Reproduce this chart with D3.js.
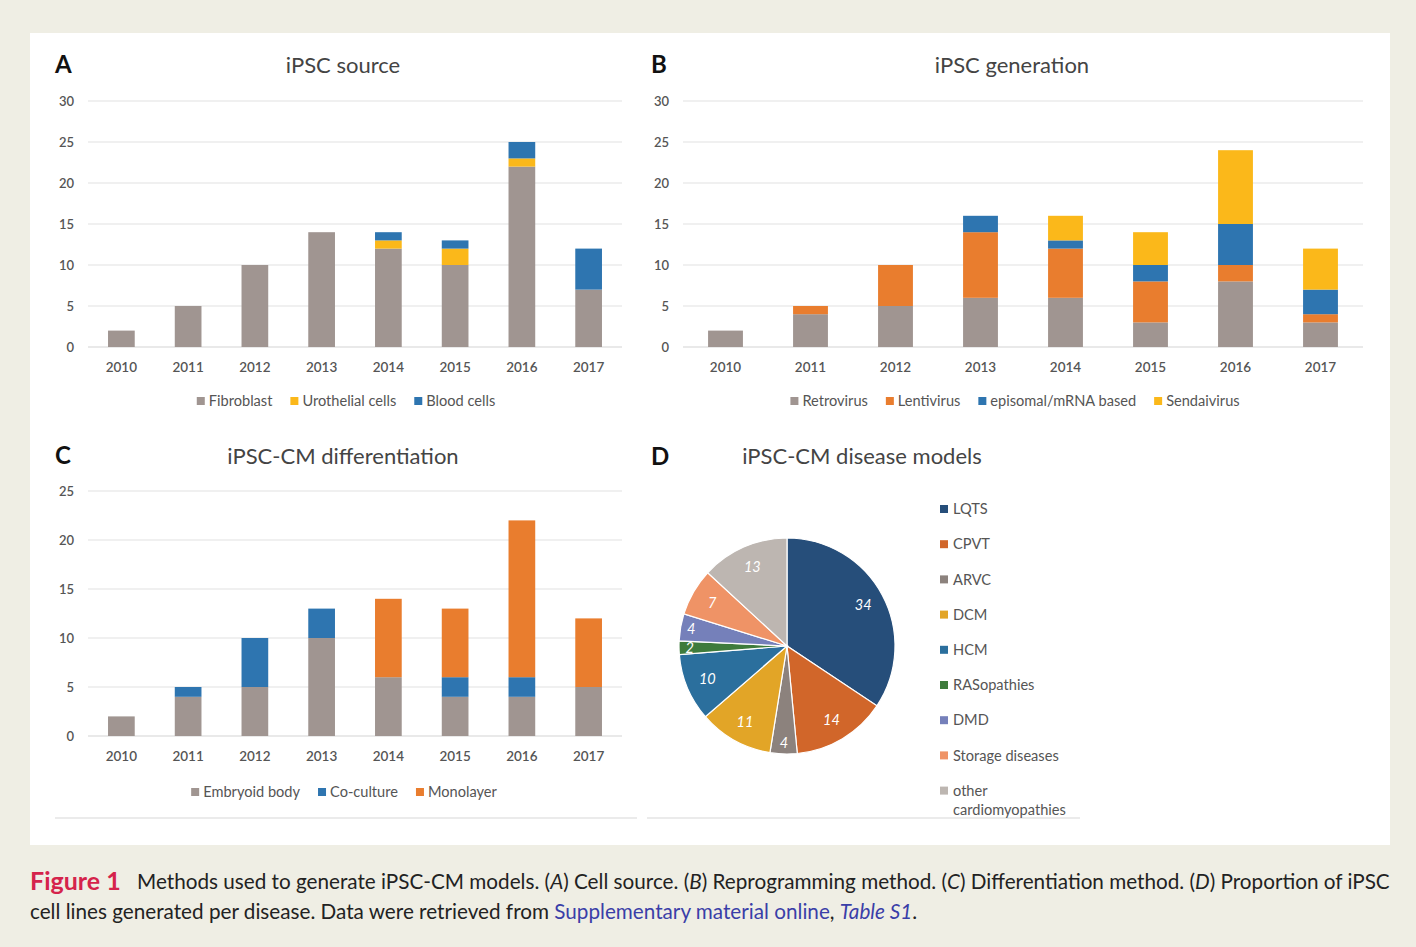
<!DOCTYPE html>
<html><head><meta charset="utf-8">
<script src="https://cdn.jsdelivr.net/npm/d3@7"></script>
<style>
body{margin:0;background:#efeee4;}
svg{display:block;}
text{font-family:Lato,"Open Sans",sans-serif;}
</style></head>
<body>
<svg id="c" width="1416" height="947"></svg>
<script>
const years = ["2010","2011","2012","2013","2014","2015","2016","2017"];

const sourceKeys = ["Fibroblast","Urothelial cells","Blood cells"];
const fibroblast = [2,5,10,14,12,10,22,7];
const urothelial = [0,0,0,0,1,2,1,0];
const bloodCells = [0,0,0,0,1,1,2,5];

const genKeys = ["Retrovirus","Lentivirus","episomal/mRNA based","Sendaivirus"];
const retrovirus = [2,4,5,6,6,3,8,3];
const lentivirus = [0,1,5,8,6,5,2,1];
const episomal = [0,0,0,2,1,2,5,3];
const sendaivirus = [0,0,0,0,3,4,9,5];

const diffKeys = ["Embryoid body","Co-culture","Monolayer"];
const embryoid = [2,4,5,10,6,4,4,5];
const coculture = [0,1,5,3,0,2,2,0];
const monolayer = [0,0,0,0,8,7,16,7];

const diseases = ["LQTS","CPVT","ARVC","DCM","HCM","RASopathies","DMD","Storage diseases","other cardiomyopathies"];
const diseaseCounts = [34,14,4,11,10,2,4,7,13];

const cGrey="#a09591", cYellow="#fbb81a", cBlue="#2e75b0", cOrange="#e97d2e";
const pieColors=["#264e7a","#d1662a","#8c827d","#e2a527","#2b6f9d","#3e7b3c","#7580ba","#ef9366","#bdb6b1"];

const svg=d3.select("#c");
svg.append("rect").attr("x",30).attr("y",33).attr("width",1360).attr("height",812).attr("fill","#fff");

const LFS=14.6;

function stacked(o){
  const g=svg.append("g");
  const x=d3.scaleBand().domain(years).range([o.x0,o.x1]).paddingInner(o.pad).paddingOuter(o.pad/2);
  const y=d3.scaleLinear().domain([0,o.max]).range([o.y0,o.yTop]);
  const ticks=d3.range(0,o.max+1,5);
  g.selectAll(".grid").data(ticks).join("line")
    .attr("x1",o.x0).attr("x2",o.x1).attr("y1",d=>y(d)).attr("y2",d=>y(d))
    .attr("stroke",d=>d===0?"#d4d4d4":"#e2e2e2").attr("stroke-width",1.2);
  g.selectAll(".yl").data(ticks).join("text")
    .attr("x",o.x0-14).attr("y",d=>y(d)).attr("dy","0.35em").attr("text-anchor","end")
    .attr("font-size",13).attr("fill","#555").attr("font-weight",600).text(d=>d);
  g.selectAll(".xl").data(years).join("text")
    .attr("x",d=>x(d)+x.bandwidth()/2).attr("y",o.y0+20).attr("dy","0.35em").attr("text-anchor","middle")
    .attr("font-size",13.5).attr("fill","#555").attr("font-weight",600).text(d=>d);
  const rows=years.map((yr,i)=>{const r={year:yr};o.keys.forEach((k,j)=>r[k]=o.series[j][i]);return r;});
  const st=d3.stack().keys(o.keys)(rows);
  st.forEach((s,j)=>{
    g.selectAll(null).data(s).join("rect")
      .attr("x",d=>x(d.data.year)).attr("width",x.bandwidth())
      .attr("y",d=>y(d[1])).attr("height",d=>y(d[0])-y(d[1]))
      .attr("fill",o.colors[j]);
  });
  g.append("text").attr("x",o.letterX).attr("y",o.titleY).attr("dy","0.35em").attr("font-size",24)
    .attr("font-weight",700).attr("font-family","Liberation Sans, Arial, sans-serif").attr("fill","#111").text(o.letter);
  g.append("text").attr("x",o.titleX).attr("y",o.titleY).attr("dy","0.35em").attr("text-anchor","middle")
    .attr("font-size",22).attr("fill","#444").text(o.title);
  const lg=g.append("g");
  let cx=0;
  o.keys.forEach((k,j)=>{
    const it=lg.append("g").attr("transform",`translate(${cx},0)`);
    it.append("rect").attr("x",0).attr("y",-4).attr("width",8).attr("height",8).attr("fill",o.colors[j]);
    const t=it.append("text").attr("x",12).attr("y",0).attr("dy","0.35em").attr("font-size",LFS).attr("fill","#555").text(k);
    cx+=12+t.node().getComputedTextLength()+18;
  });
  cx-=18;
  lg.attr("transform",`translate(${o.legendCx-cx/2},${o.legendY})`);
}

stacked({x0:88,x1:622,y0:347,yTop:101,max:30,pad:0.6,keys:sourceKeys,series:[fibroblast,urothelial,bloodCells],
  colors:[cGrey,cYellow,cBlue],letter:"A",letterX:55,title:"iPSC source",titleX:343,titleY:65,legendCx:346,legendY:401});
stacked({x0:683,x1:1363,y0:347,yTop:101,max:30,pad:0.59,keys:genKeys,series:[retrovirus,lentivirus,episomal,sendaivirus],
  colors:[cGrey,cOrange,cBlue,cYellow],letter:"B",letterX:651,title:"iPSC generation",titleX:1012,titleY:65,legendCx:1015,legendY:401});
stacked({x0:88,x1:622,y0:736,yTop:491,max:25,pad:0.6,keys:diffKeys,series:[embryoid,coculture,monolayer],
  colors:[cGrey,cBlue,cOrange],letter:"C",letterX:55,title:"iPSC-CM differentiation",titleX:343,titleY:456,legendCx:344,legendY:792});

svg.append("line").attr("x1",55).attr("x2",637).attr("y1",818).attr("y2",818).attr("stroke","#d8d8d8").attr("stroke-width",1.2);
svg.append("line").attr("x1",647).attr("x2",1080).attr("y1",818).attr("y2",818).attr("stroke","#d8d8d8").attr("stroke-width",1.2);

svg.append("text").attr("x",651).attr("y",457).attr("dy","0.35em").attr("font-size",24).attr("font-weight",700)
  .attr("font-family","Liberation Sans, Arial, sans-serif").attr("fill","#111").text("D");
svg.append("text").attr("x",862).attr("y",456).attr("dy","0.35em").attr("text-anchor","middle").attr("font-size",22).attr("fill","#444").text("iPSC-CM disease models");

const pieData=diseases.map((d,i)=>({name:d,value:diseaseCounts[i]}));
const pie=d3.pie().sort(null).value(d=>d.value)(pieData);
const R=108;
const arc=d3.arc().innerRadius(0).outerRadius(R);
const pg=svg.append("g").attr("transform","translate(787,646)");
pg.selectAll("path").data(pie).join("path").attr("d",arc).attr("fill",(d,i)=>pieColors[i]).attr("stroke","#fff").attr("stroke-width",1.2);
pg.selectAll("text").data(pie).join("text")
  .attr("transform",d=>{
    const share=(d.endAngle-d.startAngle)/(2*Math.PI);
    const rr=R*(share<0.06?0.9:0.8);
    const c=d3.arc().innerRadius(rr).outerRadius(rr).centroid(d);
    return `translate(${c})`;})
  .attr("text-anchor","middle").attr("dy","0.35em").attr("font-size",14.5).attr("font-style","italic").attr("fill","#fff")
  .text(d=>d.data.value);

const lgD=svg.append("g").attr("transform","translate(940,509)");
diseases.forEach((d,i)=>{
  const gy=i*35.2;
  lgD.append("rect").attr("x",0).attr("y",gy-4).attr("width",8).attr("height",8).attr("fill",pieColors[i]);
  if(d==="other cardiomyopathies"){
    lgD.append("text").attr("x",13).attr("y",gy).attr("dy","0.35em").attr("font-size",LFS).attr("fill","#555").text("other");
    lgD.append("text").attr("x",13).attr("y",gy+19).attr("dy","0.35em").attr("font-size",LFS).attr("fill","#555").text("cardiomyopathies");
  } else {
    lgD.append("text").attr("x",13).attr("y",gy).attr("dy","0.35em").attr("font-size",LFS).attr("fill","#555").text(d);
  }
});

svg.append("text").attr("x",30).attr("y",890).attr("font-size",25).attr("font-weight",700).attr("fill","#d5234b").text("Figure 1");
const cap=svg.append("text").attr("x",137).attr("y",889).attr("font-size",20.7).attr("fill","#222");
cap.append("tspan").text("Methods used to generate iPSC-CM models. (");
cap.append("tspan").attr("font-style","italic").text("A");
cap.append("tspan").text(") Cell source. (");
cap.append("tspan").attr("font-style","italic").text("B");
cap.append("tspan").text(") Reprogramming method. (");
cap.append("tspan").attr("font-style","italic").text("C");
cap.append("tspan").text(") Differentiation method. (");
cap.append("tspan").attr("font-style","italic").text("D");
cap.append("tspan").text(") Proportion of iPSC");
const cap2=svg.append("text").attr("x",30).attr("y",919).attr("font-size",20.7).attr("fill","#222");
cap2.append("tspan").text("cell lines generated per disease. Data were retrieved from ");
cap2.append("tspan").attr("fill","#3a3ea8").text("Supplementary material online");
cap2.append("tspan").text(", ");
cap2.append("tspan").attr("fill","#3a3ea8").attr("font-style","italic").text("Table S1");
cap2.append("tspan").text(".");
</script>
</body></html>
